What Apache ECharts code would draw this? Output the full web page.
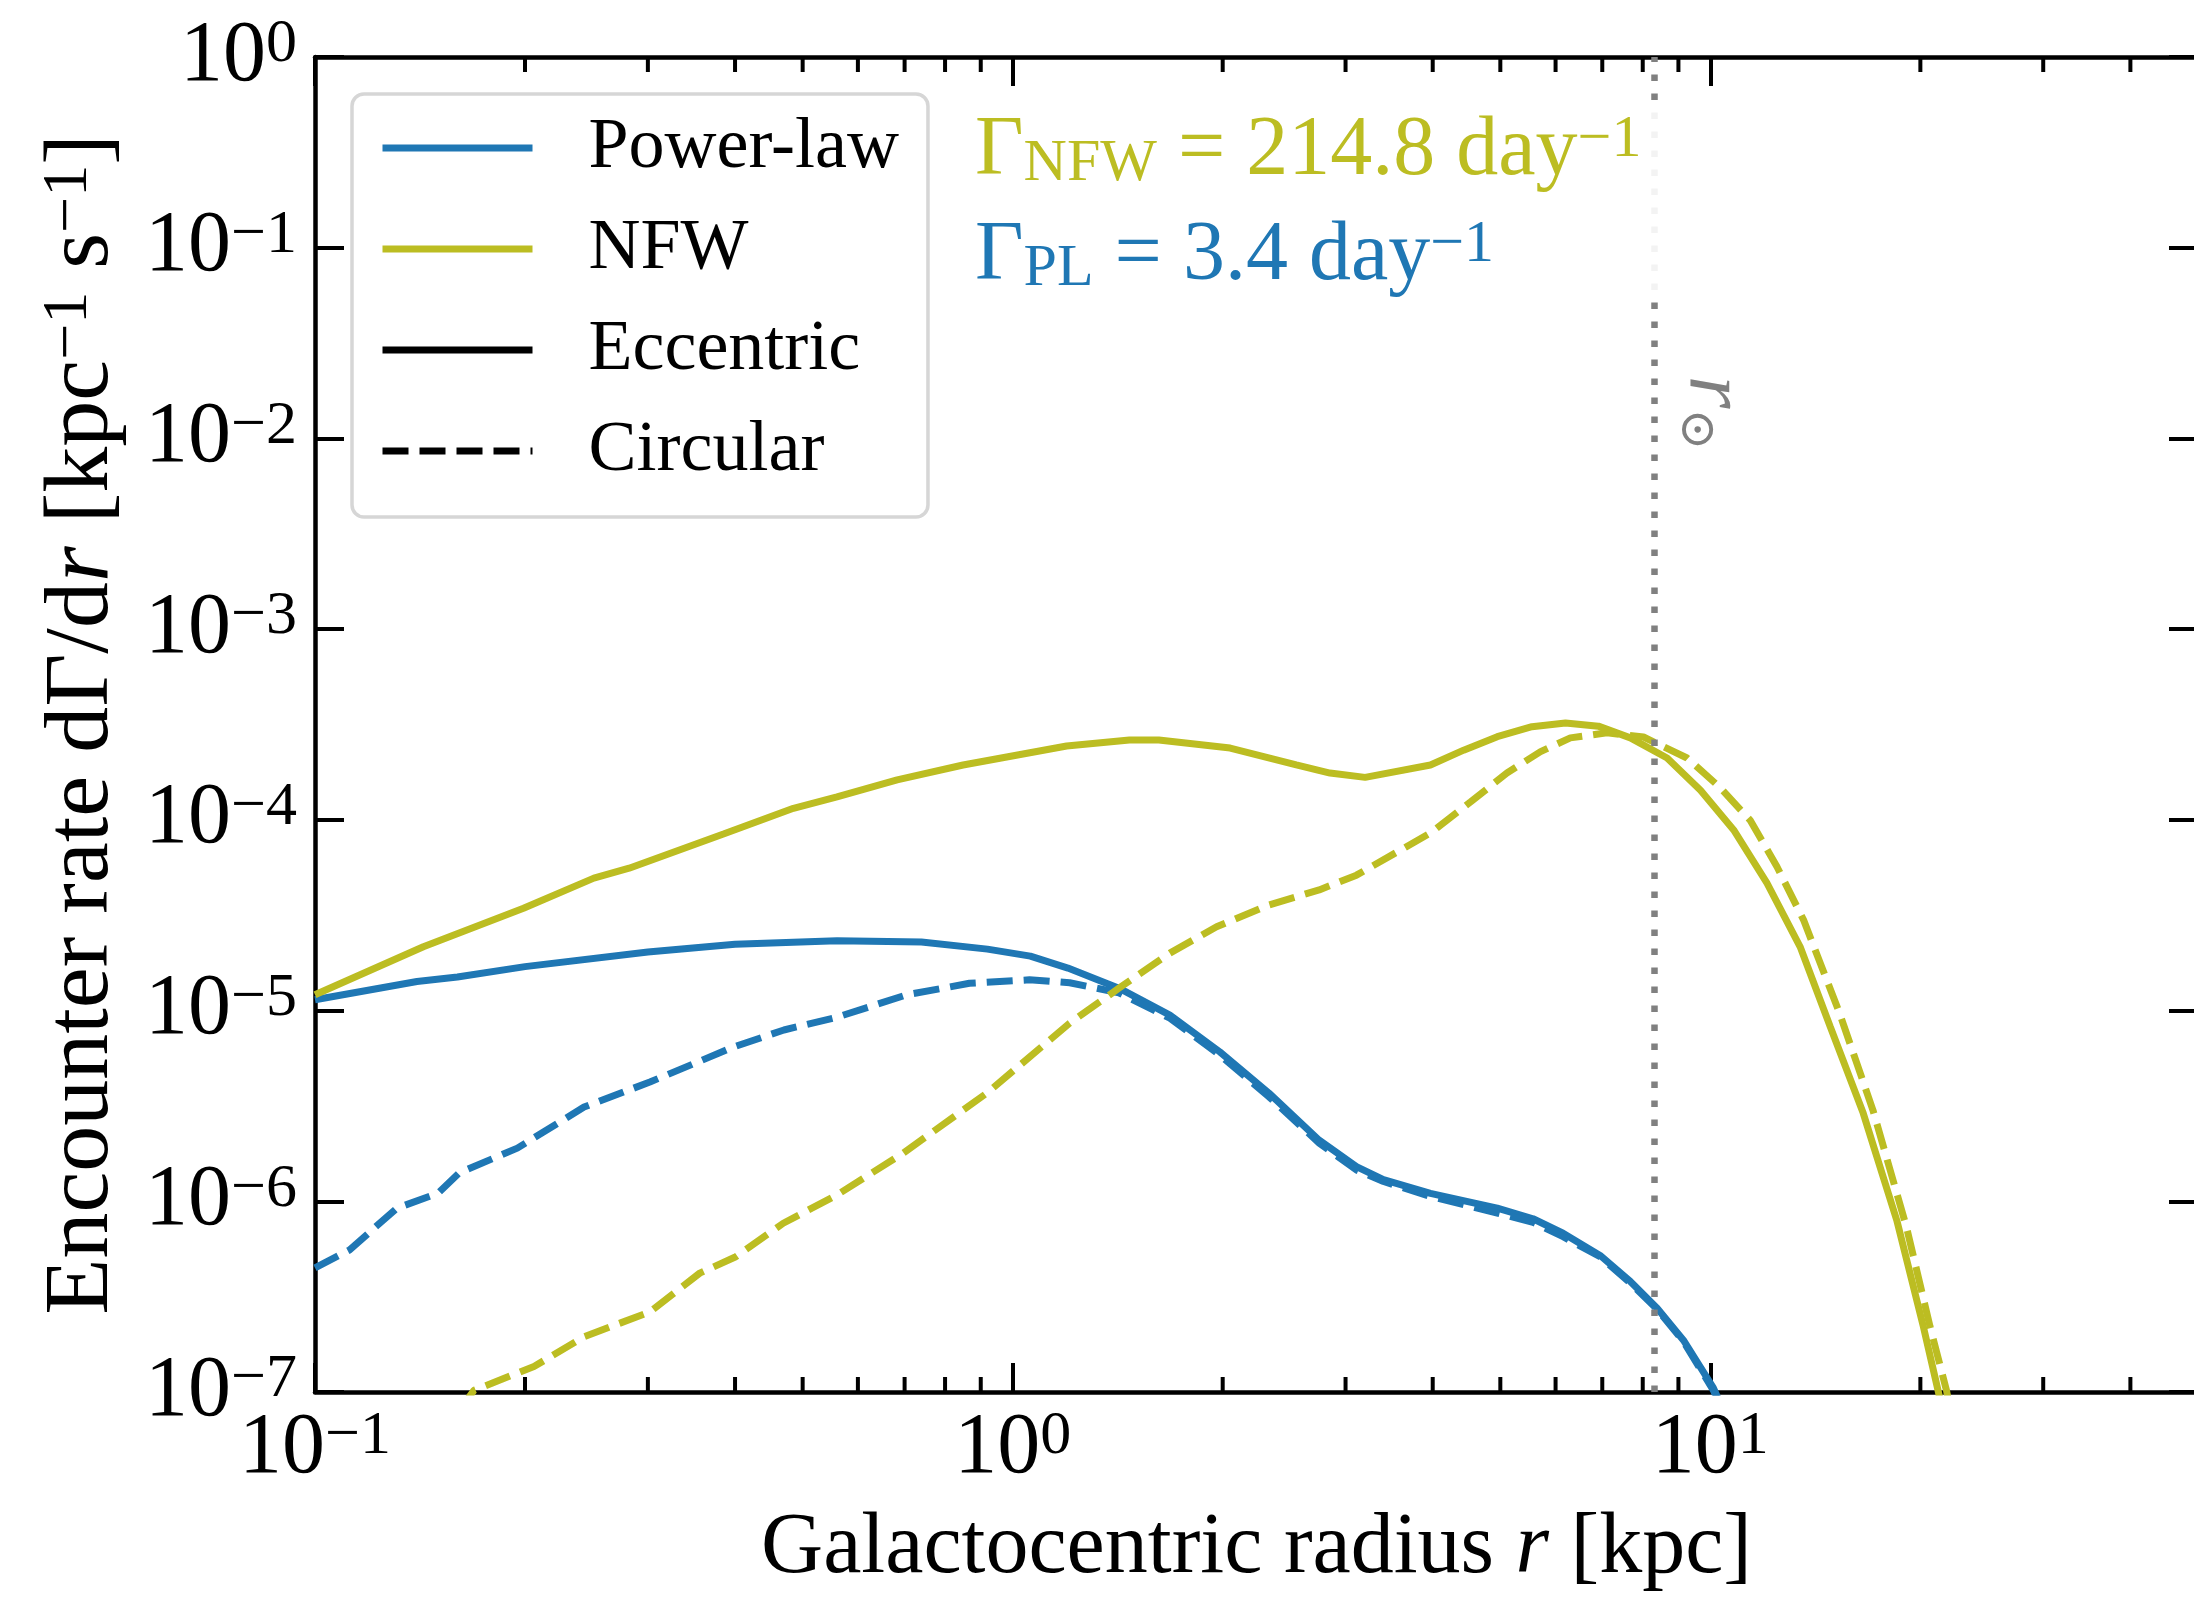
<!DOCTYPE html>
<html>
<head>
<meta charset="utf-8">
<script src="https://cdn.jsdelivr.net/npm/echarts@6/dist/echarts.min.js"></script>
<style>
  html, body { margin: 0; padding: 0; background: #fff; }
  #chart { width: 2194px; height: 1602px; }
</style>
</head>
<body>
<div id="chart"></div>
<script>
// galactocentric radius r [kpc] and encounter rate dGamma/dr [kpc^-1 s^-1]
var rPowerEcc = [0.1, 0.14, 0.16, 0.2, 0.3, 0.4, 0.56, 0.74, 0.92, 1.06, 1.2, 1.42, 1.68, 1.98, 2.33, 2.75, 3.11, 3.4, 3.97, 4.95, 5.57, 6.15, 6.95, 7.68, 8.39, 9.15, 10.1, 10.6];
var ratePowerEcc = [1.14e-5, 1.42e-5, 1.50e-5, 1.70e-5, 2.03e-5, 2.23e-5, 2.32e-5, 2.29e-5, 2.10e-5, 1.93e-5, 1.67e-5, 1.31e-5, 9.46e-6, 6.08e-6, 3.69e-6, 2.09e-6, 1.52e-6, 1.30e-6, 1.10e-6, 9.2e-7, 8.1e-7, 6.8e-7, 5.2e-7, 3.8e-7, 2.75e-7, 1.87e-7, 1.05e-7, 7.1e-8];

var rPowerCirc = [0.1, 0.112, 0.131, 0.15, 0.161, 0.195, 0.243, 0.302, 0.398, 0.47, 0.56, 0.705, 0.867, 1.057, 1.207, 1.42, 1.68, 1.98, 2.33, 2.75, 3.11, 3.4, 3.97, 4.95, 5.57, 6.15, 6.95, 7.68, 8.39, 9.15, 10.1, 10.6];
var ratePowerCirc = [4.47e-7, 5.55e-7, 9.2e-7, 1.10e-6, 1.41e-6, 1.90e-6, 3.12e-6, 4.22e-6, 6.44e-6, 7.91e-6, 9.23e-6, 1.21e-5, 1.39e-5, 1.45e-5, 1.40e-5, 1.24e-5, 9.12e-6, 5.85e-6, 3.53e-6, 2.02e-6, 1.46e-6, 1.27e-6, 1.06e-6, 8.67e-7, 7.76e-7, 6.52e-7, 5.13e-7, 3.72e-7, 2.72e-7, 1.84e-7, 1.02e-7, 6.9e-8];

var rNfwEcc = [0.1, 0.143, 0.199, 0.251, 0.282, 0.385, 0.485, 0.56, 0.683, 0.849, 1.195, 1.47, 1.62, 2.05, 2.55, 2.85, 3.2, 3.97, 4.43, 4.95, 5.55, 6.2, 6.91, 7.68, 8.67, 9.68, 10.8, 12.05, 13.45, 14.86, 16.56, 18.5, 20.2, 21.2, 22.0];
var rateNfwEcc = [1.21e-5, 2.16e-5, 3.44e-5, 4.95e-5, 5.58e-5, 8.43e-5, 1.15e-4, 1.32e-4, 1.62e-4, 1.94e-4, 2.44e-4, 2.62e-4, 2.62e-4, 2.38e-4, 1.94e-4, 1.76e-4, 1.67e-4, 1.94e-4, 2.32e-4, 2.73e-4, 3.08e-4, 3.22e-4, 3.10e-4, 2.69e-4, 2.11e-4, 1.43e-4, 8.85e-5, 4.67e-5, 2.16e-5, 8.2e-6, 2.90e-6, 7.96e-7, 2.20e-7, 1.02e-7, 5.6e-8];

var rNfwCirc = [0.15, 0.169, 0.206, 0.243, 0.302, 0.356, 0.401, 0.469, 0.56, 0.697, 0.918, 1.207, 1.42, 1.68, 1.96, 2.33, 2.75, 3.11, 3.97, 4.53, 5.11, 5.71, 6.3, 7.11, 8.02, 9.26, 10.3, 11.4, 12.46, 13.6, 15.3, 17.1, 19.1, 20.65, 21.8, 22.5];
var rateNfwCirc = [5.6e-8, 1.02e-7, 1.36e-7, 1.95e-7, 2.63e-7, 4.20e-7, 5.12e-7, 7.67e-7, 1.08e-6, 1.79e-6, 3.69e-6, 8.59e-6, 1.31e-5, 2.00e-5, 2.75e-5, 3.58e-5, 4.29e-5, 5.13e-5, 8.53e-5, 1.24e-4, 1.76e-4, 2.28e-4, 2.69e-4, 2.86e-4, 2.72e-4, 2.11e-4, 1.49e-4, 9.98e-5, 5.68e-5, 2.99e-5, 9.8e-6, 3.01e-6, 7.35e-7, 2.20e-7, 1.02e-7, 5.6e-8];

var xMinorTicks = [0.2, 0.3, 0.4, 0.5, 0.6, 0.7, 0.8, 0.9, 2, 3, 4, 5, 6, 7, 8, 9, 20, 30, 40];
var rSun = 8.3;
var xMin = 0.1, xMax = 50, yMin = 1e-7, yMax = 1;

var BLUE = '#1f77b4', OLIVE = '#bcbd22', GREY = '#808080';
var SERIF = '"Liberation Serif", "DejaVu Serif", serif';
var LW = 7, DASH = [26, 11];

function zip(xs, ys) {
    return xs.map(function (x, i) { return [x, ys[i]]; });
}

// 10^n labels as rich text
function powLabel(v) {
    var e = Math.log10(v);
    var n = Math.round(e);
    if (Math.abs(e - n) > 1e-6) return '';
    return '{b|10}{s|' + (n < 0 ? '\u2212' + (-n) : n) + '}';
}

var tickRich = {
    b: { fontSize: 86, fontFamily: SERIF, color: '#000', lineHeight: 86 },
    s: { fontSize: 62, fontFamily: SERIF, color: '#000', lineHeight: 40, verticalAlign: 'top' }
};
function nameRich(size) {
    return {
        t: { fontSize: size, fontFamily: SERIF, color: '#000', lineHeight: size },
        i: { fontSize: size, fontFamily: SERIF, fontStyle: 'italic', color: '#000', lineHeight: size },
        s: { fontSize: Math.round(size * 0.7), fontFamily: SERIF, color: '#000', lineHeight: 40, verticalAlign: 'top' }
    };
}

function axisCommon(pos, isX) {
    return {
        type: 'log',
        logBase: 10,
        position: pos,
        min: isX ? xMin : yMin,
        max: isX ? xMax : yMax,
        axisLine: { show: true, onZero: false, lineStyle: { color: '#000', width: 4.5 } },
        axisTick: { show: true, inside: true, length: 29, lineStyle: { color: '#000', width: 4 } },
        splitLine: { show: false },
        minorTick: { show: false },
        axisLabel: { show: false }
    };
}

var xBottom = axisCommon('bottom', true);
xBottom.axisLabel = { show: true, formatter: powLabel, rich: tickRich, margin: 14, showMinLabel: true, showMaxLabel: true, hideOverlap: false };
xBottom.name = '{t|Galactocentric radius }{i|r}{t| [kpc]}';
xBottom.nameLocation = 'middle';
xBottom.nameGap = 114;
xBottom.nameTextStyle = { rich: nameRich(86) };

var xTop = axisCommon('top', true);

var yLeft = axisCommon('left', false);
yLeft.axisLabel = { show: true, formatter: powLabel, rich: tickRich, margin: 18, showMinLabel: true, showMaxLabel: true, hideOverlap: false };
yLeft.name = '{t|Encounter rate d\u0393/d}{i|r}{t| [kpc}{s|\u22121}{t| s}{s|\u22121}{t|]}';
yLeft.nameLocation = 'middle';
yLeft.nameGap = 186;
yLeft.nameTextStyle = { rich: nameRich(92) };

var yRight = axisCommon('right', false);

var chart = echarts.init(document.getElementById('chart'), null, { renderer: 'canvas' });

chart.setOption({
    animation: false,
    backgroundColor: '#fff',
    grid: { left: 315, top: 57, width: 1883, height: 1335, containLabel: false, outerBoundsMode: 'none' },
    xAxis: [xBottom, xTop],
    yAxis: [yLeft, yRight],
    legend: {
        data: ['Power-law', 'NFW', 'Eccentric', 'Circular'],
        orient: 'vertical',
        left: 352,
        top: 94,
        itemWidth: 150,
        itemHeight: 2,
        itemGap: 21,
        padding: [14, 29, 26, 27],
        backgroundColor: 'rgba(255,255,255,0.8)',
        borderColor: '#d6d6d6',
        borderWidth: 3.5,
        borderRadius: 12,
        selectedMode: false,
        itemStyle: { opacity: 0 },
        lineStyle: { width: LW },
        textStyle: { fontSize: 72, fontFamily: SERIF, color: '#000', lineHeight: 80, padding: [0, 0, 0, 51] }
    },
    graphic: [
        {
            // the text box of the NFW rate fades the r_sun line behind it
            type: 'rect', z: 50, silent: true,
            shape: { x: 1635, y: 108, width: 40, height: 192 },
            style: { fill: 'rgba(255,255,255,0.9)' }
        },
        {
            type: 'text', z: 51, x: 975, y: 152, silent: true,
            style: {
                text: '{g|\u0393}{sub|NFW}{g| = 214.8 day}{sup|\u22121}',
                align: 'left', verticalAlign: 'middle',
                rich: {
                    g: { fontSize: 84, fontFamily: SERIF, fill: OLIVE, lineHeight: 84 },
                    sub: { fontSize: 60, fontFamily: SERIF, fill: OLIVE, lineHeight: 40, verticalAlign: 'bottom' },
                    sup: { fontSize: 60, fontFamily: SERIF, fill: OLIVE, lineHeight: 34, verticalAlign: 'top' }
                }
            }
        },
        {
            type: 'text', z: 51, x: 975, y: 257, silent: true,
            style: {
                text: '{g|\u0393}{sub|PL}{g| = 3.4 day}{sup|\u22121}',
                align: 'left', verticalAlign: 'middle',
                rich: {
                    g: { fontSize: 84, fontFamily: SERIF, fill: BLUE, lineHeight: 84 },
                    sub: { fontSize: 60, fontFamily: SERIF, fill: BLUE, lineHeight: 40, verticalAlign: 'bottom' },
                    sup: { fontSize: 60, fontFamily: SERIF, fill: BLUE, lineHeight: 34, verticalAlign: 'top' }
                }
            }
        },
        {
            type: 'text', z: 51, x: 1712, y: 413, rotation: -Math.PI / 2, silent: true,
            style: {
                text: '{r|r}{o|\u2299}',
                align: 'center', verticalAlign: 'middle',
                rich: {
                    r: { fontSize: 84, fontFamily: SERIF, fontStyle: 'italic', fill: GREY, lineHeight: 84 },
                    o: { fontSize: 50, fontFamily: '"DejaVu Serif", serif', fill: GREY, lineHeight: 34, verticalAlign: 'bottom' }
                }
            }
        }
    ],
    series: [
        {
            name: 'Power-law', type: 'line', data: zip(rPowerEcc, ratePowerEcc),
            symbol: 'none', showSymbol: false, clip: true, z: 3,
            lineStyle: { color: BLUE, width: LW }, itemStyle: { color: BLUE },
            markLine: {
                silent: true, symbol: 'none', label: { show: false },
                lineStyle: { color: GREY, width: 6.5, type: [6.5, 12.5] },
                data: [{ xAxis: rSun }]
            }
        },
        {
            name: 'Power-law (circular)', type: 'line', data: zip(rPowerCirc, ratePowerCirc),
            symbol: 'none', showSymbol: false, clip: true, z: 3,
            lineStyle: { color: BLUE, width: LW, type: DASH }, itemStyle: { color: BLUE }
        },
        {
            name: 'NFW', type: 'line', data: zip(rNfwEcc, rateNfwEcc),
            symbol: 'none', showSymbol: false, clip: true, z: 3,
            lineStyle: { color: OLIVE, width: LW }, itemStyle: { color: OLIVE }
        },
        {
            name: 'NFW (circular)', type: 'line', data: zip(rNfwCirc, rateNfwCirc),
            symbol: 'none', showSymbol: false, clip: true, z: 3,
            lineStyle: { color: OLIVE, width: LW, type: DASH }, itemStyle: { color: OLIVE }
        },
        // legend-only entries for the orbit type
        {
            name: 'Eccentric', type: 'line', data: [], symbol: 'none',
            lineStyle: { color: '#000', width: LW }, itemStyle: { color: '#000' }
        },
        {
            name: 'Circular', type: 'line', data: [], symbol: 'none',
            lineStyle: { color: '#000', width: LW, type: DASH }, itemStyle: { color: '#000' }
        },
        {
            // minor ticks at 2..9 of each decade, on bottom and top spines
            type: 'custom', silent: true, clip: false, z: 5,
            data: xMinorTicks.map(function (v) { return [v, yMin]; }),
            encode: { x: 0, y: 1 },
            renderItem: function (params, api) {
                var v = api.value(0);
                var b = api.coord([v, yMin]);
                var t = api.coord([v, yMax]);
                var st = { stroke: '#000', lineWidth: 4 };
                return {
                    type: 'group',
                    children: [
                        { type: 'line', shape: { x1: b[0], y1: b[1], x2: b[0], y2: b[1] - 15 }, style: st },
                        { type: 'line', shape: { x1: t[0], y1: t[1], x2: t[0], y2: t[1] + 15 }, style: st }
                    ]
                };
            }
        }
    ]
});
</script>
</body>
</html>
